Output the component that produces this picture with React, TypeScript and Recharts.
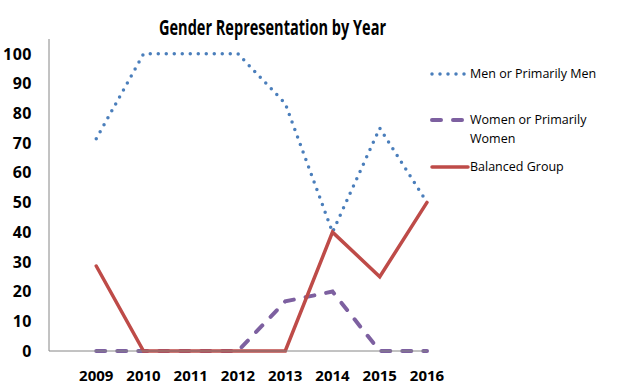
import { LineChart, Line, XAxis, YAxis } from 'recharts'

const years = [2009, 2010, 2011, 2012, 2013, 2014, 2015, 2016]
const men = [71.4, 100, 100, 100, 83.3, 40, 75, 50]
const women = [0, 0, 0, 0, 16.7, 20, 0, 0]
const balanced = [28.6, 0, 0, 0, 0, 40, 25, 50]
const yTicks = [0, 10, 20, 30, 40, 50, 60, 70, 80, 90, 100]

const series = [
  { key: 'men', label: ['Men or Primarily Men'], color: '#4A7EBB', dash: '0 8', width: 3.5 },
  { key: 'women', label: ['Women or Primarily', 'Women'], color: '#7D60A0', dash: '9 12', width: 4 },
  { key: 'balanced', label: ['Balanced Group'], color: '#BE4B48', dash: undefined, width: 3.5 },
]

const data = years.map((year, i) => ({
  year,
  men: men[i],
  women: women[i],
  balanced: balanced[i],
}))

const tickStyle = { fontFamily: 'Open Sans', fontWeight: 700, fontSize: 15, fill: '#000' }

// legend rows sit at fixed heights like the Excel original
const legendTops = [64, 110, 157]

export default function App() {
  return (
    <div style={{ position: 'absolute', left: 0, top: 0, width: 628, height: 391, background: '#fff' }}>
      <svg width={628} height={50} style={{ position: 'absolute', left: 0, top: 0 }}>
        <text
          x={159}
          y={35}
          textLength={227}
          lengthAdjust="spacingAndGlyphs"
          style={{ fontFamily: 'Open Sans', fontWeight: 700, fontSize: 22, fill: '#000' }}
        >
          Gender Representation by Year
        </text>
      </svg>
      <LineChart width={628} height={391} data={data} margin={{ top: 39, right: 201, bottom: 0, left: 0 }}>
        <XAxis
          type="number"
          dataKey="year"
          domain={[2008, 2016]}
          ticks={years}
          height={40}
          tickLine={false}
          tickSize={0}
          tickMargin={19}
          axisLine={{ stroke: '#868686' }}
          tick={tickStyle}
        />
        <YAxis
          type="number"
          domain={[0, 105]}
          ticks={yTicks}
          width={49}
          tickLine={false}
          tickSize={0}
          tickMargin={17}
          axisLine={{ stroke: '#868686' }}
          tick={{ ...tickStyle, fontSize: 16, letterSpacing: 0.5 }}
        />
        {series.map((s) => (
          <Line
            key={s.key}
            type="linear"
            dataKey={s.key}
            stroke={s.color}
            strokeWidth={s.width}
            strokeDasharray={s.dash}
            strokeLinecap="round"
            dot={false}
            activeDot={false}
            isAnimationActive={false}
          />
        ))}
      </LineChart>
      {series.map((s, i) => (
        <div
          key={s.key}
          style={{ position: 'absolute', left: 430, top: legendTops[i], fontFamily: 'Open Sans', fontSize: 12.5, lineHeight: '19px', color: '#000' }}
        >
          <svg width={40} height={19} style={{ position: 'absolute', left: 0, top: 0 }}>
            <line
              x1={2}
              y1={10}
              x2={38}
              y2={10}
              stroke={s.color}
              strokeWidth={s.width}
              strokeDasharray={s.dash}
              strokeLinecap="round"
            />
          </svg>
          <div style={{ marginLeft: 40 }}>
            {s.label.map((t) => (
              <div key={t}>{t}</div>
            ))}
          </div>
        </div>
      ))}
    </div>
  )
}
